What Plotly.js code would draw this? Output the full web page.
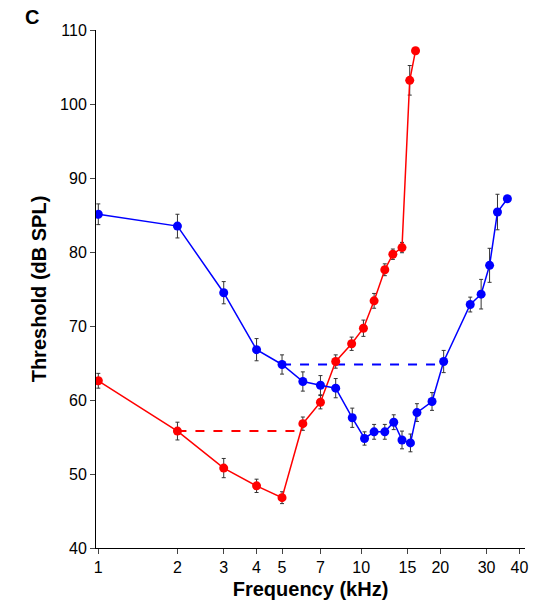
<!DOCTYPE html>
<html><head><script src="https://cdn.plot.ly/plotly-3.0.1.min.js"></script></head>
<body style="margin:0"><div id="myDiv" style="width:539px;height:609px"></div>
<script>
var blueX = [1, 2, 3, 4, 5, 6, 7, 8, 9.25, 10.3, 11.2, 12.3, 13.3, 14.3, 15.4, 16.3, 18.6, 20.6, 26, 28.6, 30.8, 33, 36];
var blueY = [85.1, 83.5, 74.5, 66.8, 64.8, 62.5, 62.0, 61.6, 57.6, 54.8, 55.7, 55.7, 57, 54.6, 54.2, 58.3, 59.8, 65.2, 72.9, 74.3, 78.2, 85.4, 87.2];
var blueErr = [1.4, 1.6, 1.5, 1.5, 1.3, 1.3, 1.3, 1.3, 1.3, 0.9, 1.0, 1.0, 1.0, 1.2, 1.2, 1.2, 1.2, 1.5, 1.0, 2.0, 2.3, 2.4, 0];
var redX = [1, 2, 3, 4, 5, 6, 7, 8, 9.2, 10.2, 11.2, 12.3, 13.2, 14.3, 15.3, 16.1];
var redY = [62.6, 55.8, 50.8, 48.4, 46.8, 56.8, 59.7, 65.2, 67.6, 69.7, 73.4, 77.6, 79.7, 80.6, 103.2, 107.2];
var redErr = [1.0, 1.2, 1.3, 0.9, 0.8, 0.9, 0.9, 0.9, 0.9, 1.1, 1.0, 0.8, 0.7, 0.7, 2.0, 0];
var redDashX = [2, 6], redDashY = [55.8, 55.8];
var blueDashX = [5, 20.6], blueDashY = [64.8, 64.8];
var xTicks = [1, 2, 3, 4, 5, 7, 10, 15, 20, 30, 40];

function series(x, y, e, c) {
  return {x: x, y: y, mode: 'lines+markers', type: 'scatter',
    line: {color: c, width: 1.5}, marker: {color: c, size: 9},
    error_y: {type: 'data', array: e, color: '#333', thickness: 1, width: 2}};
}
var data = [
  {x: redDashX, y: redDashY, mode: 'lines', line: {color: 'red', dash: 'dash', width: 2}},
  {x: blueDashX, y: blueDashY, mode: 'lines', line: {color: 'blue', dash: 'dash', width: 2}},
  series(redX, redY, redErr, 'red'),
  series(blueX, blueY, blueErr, 'blue')
];
var layout = {
  width: 539, height: 609, showlegend: false,
  margin: {l: 96, r: 14, t: 30, b: 61},
  font: {family: 'Arial, Liberation Sans', color: '#000'},
  xaxis: {type: 'log', range: [Math.log10(0.98), Math.log10(42)], tickvals: xTicks, ticktext: xTicks.map(String),
    showgrid: false, zeroline: false, showline: true, linecolor: '#000', ticks: 'outside', ticklen: 5,
    tickfont: {size: 16}, title: {text: '<b>Frequency (kHz)</b>', font: {size: 20}, standoff: 6}},
  yaxis: {range: [40, 110], dtick: 10, showgrid: false, zeroline: false, showline: true, linecolor: '#000',
    ticks: 'outside', ticklen: 5, tickfont: {size: 16},
    title: {text: '<b>Threshold (dB SPL)</b>', font: {size: 20}, standoff: 8}},
  annotations: [{text: '<b>C</b>', xref: 'paper', yref: 'paper', x: -0.17, y: 1.05, showarrow: false, font: {size: 20}, xanchor: 'left'}]
};
Plotly.newPlot('myDiv', data, layout, {displayModeBar: false});
</script></body></html>
